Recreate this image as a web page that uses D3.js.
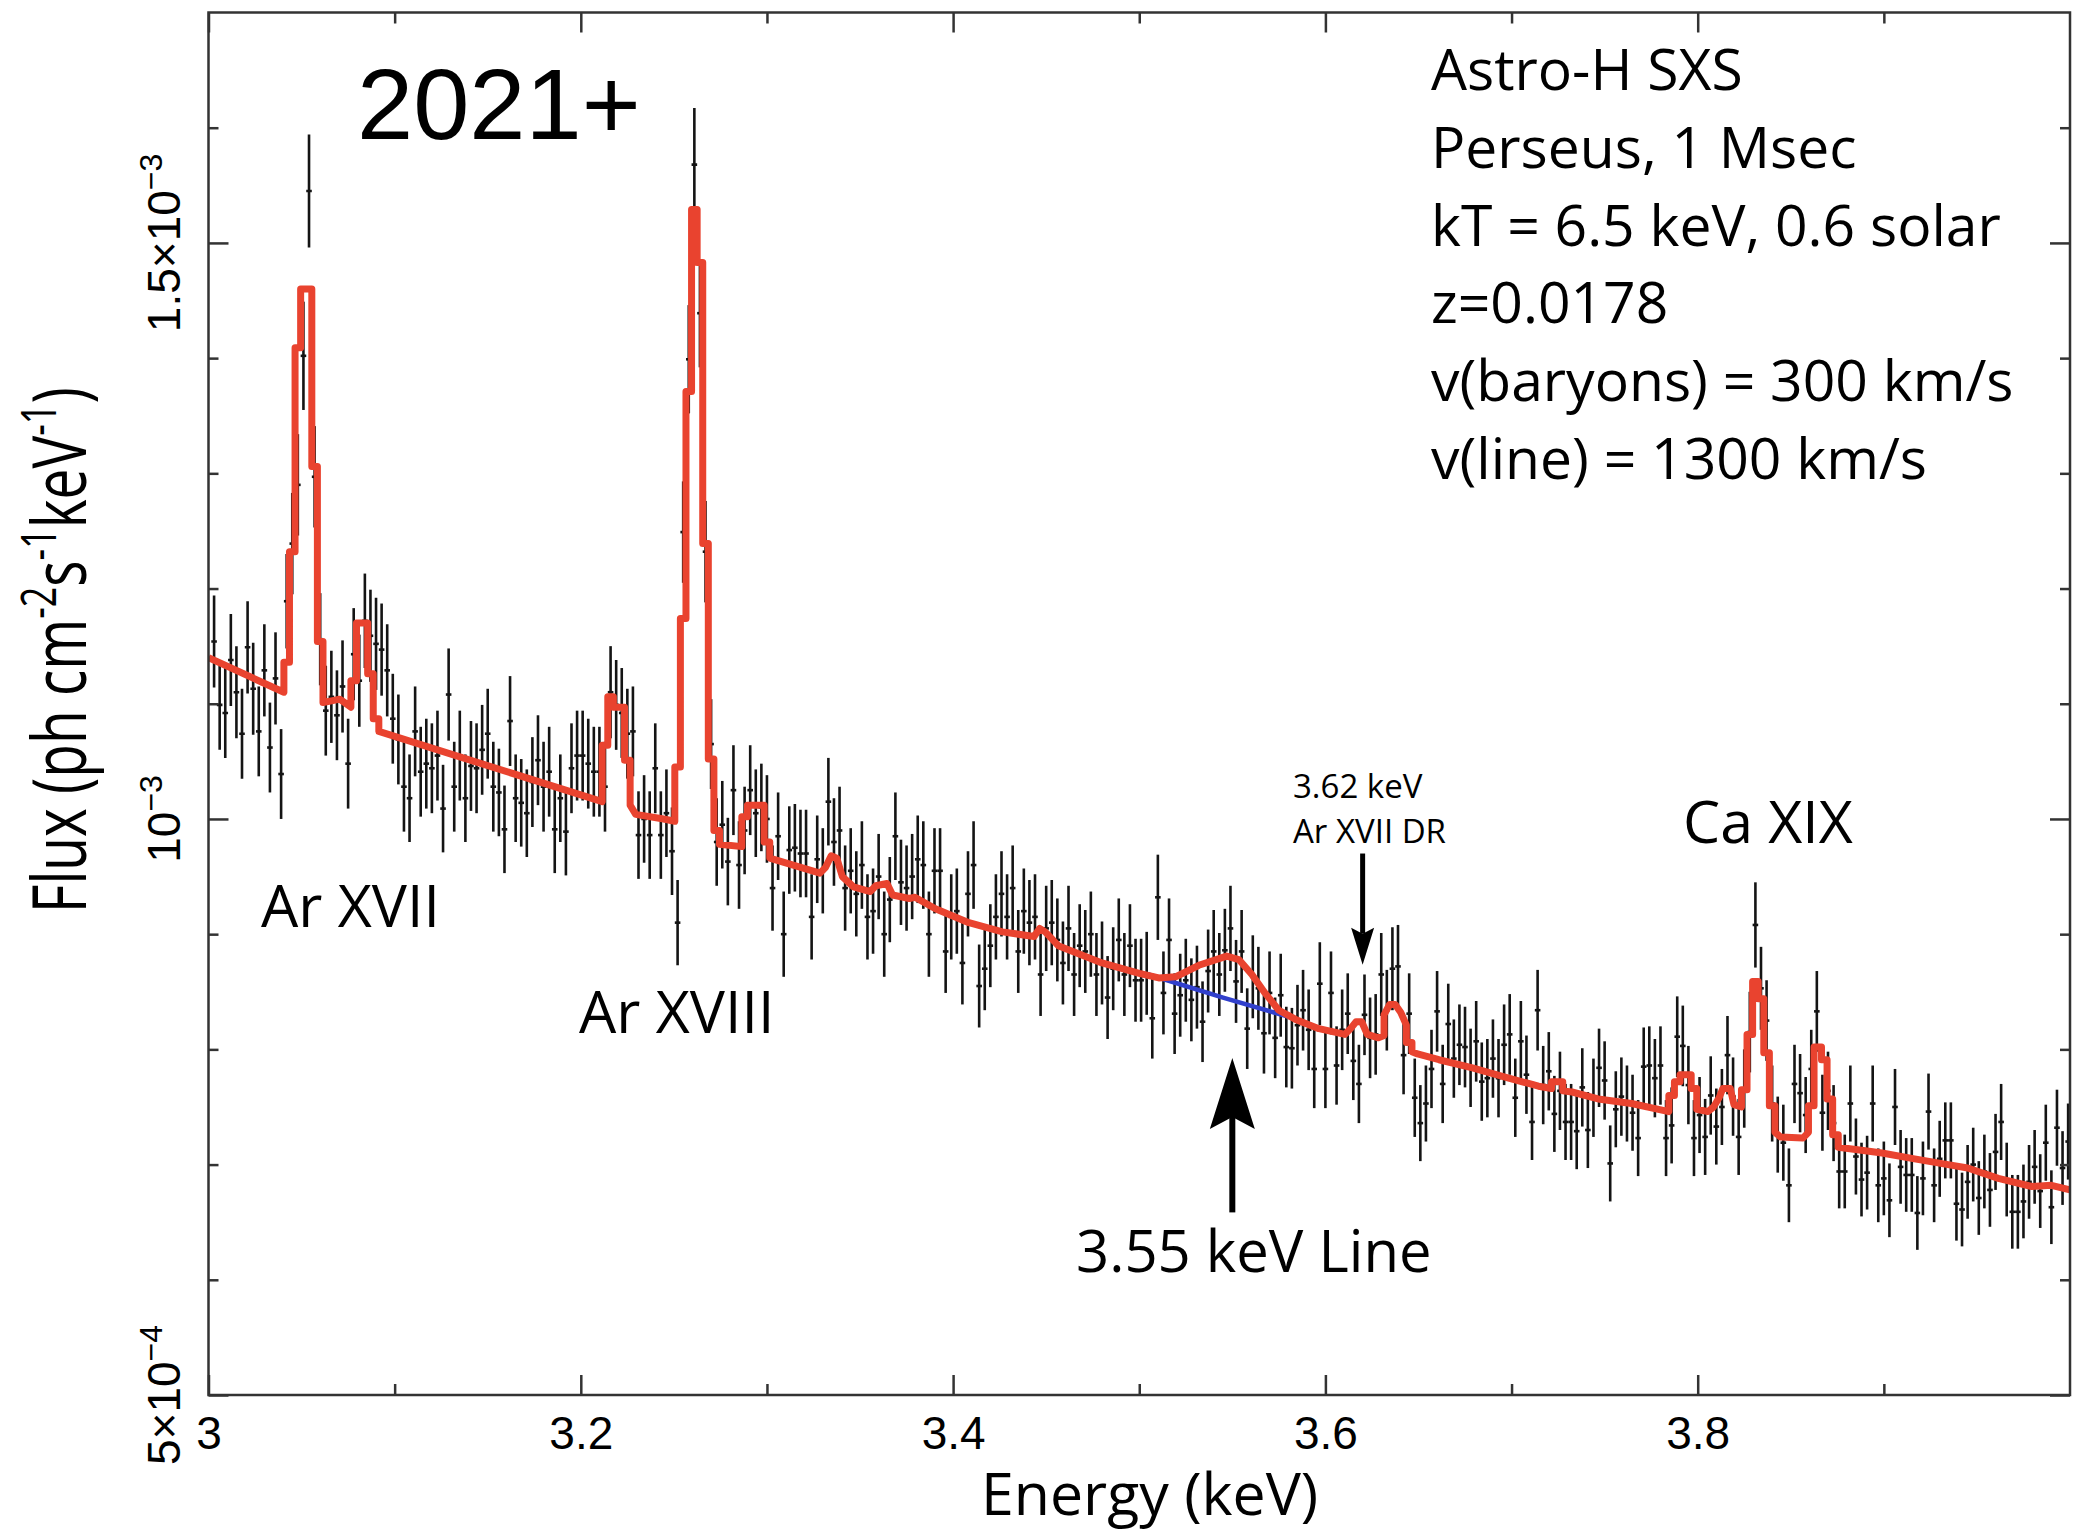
<!DOCTYPE html>
<html><head><meta charset="utf-8">
<script src="https://cdn.jsdelivr.net/npm/d3@7"></script>
<style>
html,body{margin:0;padding:0;background:#fff;}
svg{display:block;}
</style></head><body>
<svg id="chart" width="2076" height="1535"></svg>
<script>
// ---------------- DATA ----------------
// spectral bins: centre of first bin and bin width (keV)
const binStart = 3.003, binWidth = 0.003;
// observed flux per bin, in units of 1e-3 ph cm^-2 s^-1 keV^-1
const flux = [
1.154,1.099,1.092,1.138,1.110,1.074,1.149,1.113,1.076,1.129,
1.062,1.122,1.039,1.189,1.239,1.290,1.402,1.545,1.297,1.156,
1.094,1.106,1.090,1.115,1.048,1.143,1.120,1.172,1.159,1.152,
1.147,1.129,1.087,1.069,1.028,1.018,1.076,1.041,1.048,1.044,
1.055,1.009,1.108,1.028,1.055,1.018,1.046,1.044,1.060,1.074,
1.028,1.023,0.991,1.085,1.018,1.014,1.005,1.032,1.051,1.028,
1.041,0.991,1.018,0.989,1.044,1.055,1.055,1.048,1.041,1.041,
1.028,1.110,1.099,1.092,1.074,1.076,0.986,1.000,0.986,1.044,
0.986,1.005,0.972,0.910,1.249,1.399,1.568,1.439,1.232,1.065,
0.980,0.995,0.963,1.025,0.960,0.990,1.025,1.005,1.010,1.000,
0.940,0.985,0.900,0.973,0.975,0.970,0.970,0.915,0.965,0.955,
1.015,0.980,0.990,0.940,0.955,0.935,0.960,0.915,0.920,0.950,
0.900,0.930,0.985,0.945,0.940,0.950,0.965,0.960,0.900,0.955,
0.955,0.885,0.915,0.920,0.875,0.935,0.960,0.855,0.870,0.890,
0.915,0.935,0.915,0.940,0.885,0.920,0.910,0.915,0.865,0.905,
0.910,0.895,0.875,0.905,0.865,0.890,0.885,0.900,0.865,0.875,
0.845,0.870,0.895,0.865,0.890,0.860,0.860,0.866,0.827,0.932,
0.849,0.895,0.831,0.847,0.860,0.843,0.854,0.824,0.868,0.885,
0.865,0.886,0.905,0.859,0.885,0.818,0.863,0.853,0.814,0.849,
0.810,0.847,0.802,0.801,0.821,0.834,0.817,0.783,0.857,0.783,
0.849,0.786,0.817,0.831,0.790,0.770,0.830,0.810,0.813,0.865,
0.834,0.870,0.872,0.795,0.831,0.758,0.736,0.753,0.783,0.833,
0.770,0.822,0.792,0.804,0.802,0.784,0.807,0.772,0.775,0.792,
0.775,0.804,0.813,0.758,0.807,0.778,0.737,0.834,0.769,0.781,
0.744,0.764,0.737,0.737,0.729,0.767,0.730,0.758,0.784,0.773,
0.701,0.748,0.759,0.753,0.745,0.723,0.785,0.786,0.775,0.786,
0.723,0.734,0.811,0.803,0.769,0.723,0.743,0.724,0.760,0.733,
0.750,0.795,0.759,0.724,0.766,0.815,0.908,0.853,0.825,0.753,
0.726,0.719,0.682,0.770,0.762,0.743,0.783,0.833,0.745,0.764,
0.736,0.694,0.694,0.753,0.707,0.687,0.693,0.753,0.682,0.688,
0.669,0.750,0.698,0.691,0.691,0.658,0.688,0.746,0.682,0.705,
0.721,0.721,0.666,0.661,0.685,0.700,0.671,0.694,0.678,0.711,
0.737,0.687,0.659,0.659,0.668,0.685,0.698,0.677,0.719,0.663,
0.732,0.697,0.720];
// 1-sigma error per bin, in units of 1e-6
const fluxErr = [
40,39,39,40,40,39,40,40,39,40, 39,40,39,41,44,44,47,49,44,40,
39,40,39,40,39,40,40,41,40,40, 40,40,39,39,39,38,39,39,39,39,
39,38,40,39,39,38,39,39,39,39, 39,38,38,39,38,38,38,39,39,39,
39,38,38,38,39,39,39,39,39,39, 39,40,39,39,39,39,38,38,38,39,
38,38,38,37,44,47,49,47,44,39, 38,38,38,39,38,38,39,38,38,38,
37,38,37,38,38,38,38,37,38,37, 38,38,38,37,37,37,38,37,37,37,
37,37,38,37,37,37,38,38,37,37, 37,36,37,37,36,37,38,36,36,36,
37,37,37,37,36,37,37,37,36,37, 37,36,36,37,36,36,36,37,36,36,
36,36,36,36,36,36,36,36,35,37, 36,36,35,36,36,36,36,35,36,36,
36,36,37,36,36,35,36,36,35,36, 35,36,35,35,35,35,35,34,36,34,
36,34,35,35,34,34,35,35,35,36, 35,36,36,34,35,34,33,33,34,35,
34,35,34,35,35,34,35,34,34,34, 34,35,35,34,35,34,33,35,34,34,
33,34,33,33,33,34,33,34,34,34, 33,33,34,33,33,33,34,34,34,34,
33,33,35,35,34,33,33,33,34,33, 33,34,34,33,34,35,37,36,35,33,
33,33,32,34,34,33,34,35,33,34, 33,32,32,33,33,32,32,33,32,32,
32,33,32,32,32,32,32,33,32,33, 33,33,32,32,32,32,32,32,32,33,
33,32,32,32,32,32,32,32,33,32, 33,32,33];
// best-fit model (red), vertices of the folded step curve
const modelE = [3.000,3.0405,3.0405,3.0435,3.0435,3.0465,3.0465,3.0495,3.0495,3.0555,
3.0555,3.0585,3.0585,3.0615,3.0615,3.0705,3.0765,3.0765,3.0795,3.0795,
3.0855,3.0855,3.0885,3.0885,3.0915,3.0915,3.2115,3.2115,3.2145,3.2145,
3.2175,3.2175,3.2235,3.2235,3.2265,3.2265,3.2295,3.2445,3.2505,3.2505,
3.2535,3.2535,3.2565,3.2565,3.2595,3.2595,3.2625,3.2625,3.2655,3.2655,
3.2685,3.2685,3.2715,3.2715,3.2745,3.2745,3.2865,3.2865,3.2895,3.2895,
3.2985,3.2985,3.3015,3.3015,3.3285,3.3315,3.3345,3.3375,3.3405,3.3465,
3.3555,3.3585,3.3645,3.3675,3.3765,3.3795,3.3905,3.4085,3.4265,3.4435,
3.4465,3.4495,3.4565,3.4800,3.5000,3.5105,3.5195,3.5320,3.5470,3.5535,
3.5605,3.5675,3.5750,3.5840,3.5965,3.6105,3.6135,3.6165,3.6195,3.6225,
3.6285,3.6315,3.6315,3.6345,3.6375,3.6405,3.6435,3.6435,3.6465,3.6465,
3.6495,3.6610,3.6790,3.6965,3.7145,3.7215,3.7215,3.7275,3.7275,3.7325,
3.7465,3.7645,3.7845,3.7845,3.7875,3.7875,3.7905,3.7905,3.7965,3.7965,
3.7995,3.7995,3.8055,3.8085,3.8115,3.8135,3.8175,3.8195,3.8235,3.8235,
3.8265,3.8265,3.8295,3.8295,3.8325,3.8325,3.8355,3.8355,3.8385,3.8385,
3.8415,3.8415,3.8445,3.8565,3.8595,3.8595,3.8625,3.8625,3.8665,3.8665,
3.8695,3.8695,3.8725,3.8725,3.8755,3.8755,3.8900,3.8990,3.9165,3.9345,
3.9450,3.9615,3.9795,3.9900,4.0000];
const modelF = [1.140,1.110,1.136,1.136,1.232,1.232,1.409,1.409,1.460,1.460,
1.306,1.306,1.154,1.154,1.101,1.104,1.097,1.120,1.120,1.170,
1.170,1.126,1.126,1.087,1.087,1.076,1.015,1.064,1.064,1.106,
1.106,1.097,1.097,1.051,1.051,1.012,1.004,1.000,0.998,1.045,
1.045,1.174,1.174,1.371,1.371,1.529,1.529,1.483,1.483,1.239,
1.239,1.052,1.052,0.990,0.990,0.978,0.976,1.002,1.002,1.012,
1.012,0.980,0.980,0.966,0.953,0.958,0.968,0.966,0.950,0.941,
0.937,0.942,0.944,0.934,0.931,0.932,0.922,0.910,0.902,0.898,
0.905,0.902,0.890,0.875,0.866,0.862,0.863,0.873,0.881,0.878,
0.865,0.849,0.834,0.826,0.818,0.813,0.818,0.824,0.824,0.813,
0.810,0.812,0.830,0.839,0.839,0.832,0.821,0.806,0.806,0.798,
0.796,0.791,0.784,0.776,0.768,0.766,0.772,0.772,0.764,0.763,
0.757,0.753,0.746,0.760,0.760,0.772,0.772,0.778,0.778,0.766,
0.766,0.748,0.746,0.750,0.758,0.766,0.766,0.752,0.750,0.765,
0.765,0.813,0.813,0.859,0.859,0.844,0.844,0.797,0.797,0.751,
0.751,0.728,0.724,0.723,0.728,0.751,0.751,0.802,0.802,0.791,
0.791,0.757,0.757,0.726,0.726,0.715,0.712,0.710,0.705,0.700,
0.697,0.688,0.681,0.682,0.678];
// continuum without the 3.55 keV line (blue)
const contE = [3.505, 3.545, 3.585];
const contF = [0.865, 0.845, 0.826];

// axes
const xMajorTicks = [3, 3.2, 3.4, 3.6, 3.8];
const xTickLabels = ["3", "3.2", "3.4", "3.6", "3.8"];
const xMinorTicks = [3.1, 3.3, 3.5, 3.7, 3.9];
const yMajorTicks = [0.5, 1.0, 1.5];
const yTickMant = ["5×10", "10", "1.5×10"];
const yTickExp = ["−4", "−3", "−3"];
const yMinorTicks = [0.6, 0.7, 0.8, 0.9, 1.1, 1.2, 1.3, 1.4, 1.6];

// text
const infoLines = ["Astro-H SXS", "Perseus, 1 Msec", "kT = 6.5 keV, 0.6 solar",
  "z=0.0178", "v(baryons) = 300 km/s", "v(line) = 1300 km/s"];
const lineLabels = ["Ar XVII", "Ar XVIII", "Ca XIX"];
const arrowEnergies = [3.55, 3.62];

// ---------------- LAYOUT ----------------
const W = 2076, H = 1535;
const plot = {left: 208.5, right: 2070, top: 12.5, bottom: 1395};
const SANS = "'Open Sans', 'Noto Sans', sans-serif";
const HELV = "'Liberation Sans', Arial, Helvetica, sans-serif";

const svg = d3.select("#chart");
const x = d3.scaleLinear().domain([3, 4]).range([plot.left, plot.right]);
const y = d3.scaleLinear().domain([0.5, 1.7]).range([plot.bottom, plot.top]);

svg.append("rect").attr("width", W).attr("height", H).attr("fill", "#fff");
svg.append("defs").append("clipPath").attr("id", "clip").append("rect")
  .attr("x", plot.left).attr("y", plot.top)
  .attr("width", plot.right - plot.left).attr("height", plot.bottom - plot.top);

// ---------------- DATA POINTS ----------------
const pts = flux.map((f, k) => ({e: binStart + k * binWidth, f: f, s: fluxErr[k] / 1000}));
const gData = svg.append("g").attr("clip-path", "url(#clip)")
  .attr("stroke", "#141414").attr("stroke-width", 2.6).attr("fill", "none");
gData.selectAll("line.v").data(pts).join("line").attr("class", "v")
  .attr("x1", d => x(d.e)).attr("x2", d => x(d.e))
  .attr("y1", d => y(d.f - d.s)).attr("y2", d => y(d.f + d.s));
gData.selectAll("line.h").data(pts).join("line").attr("class", "h")
  .attr("x1", d => x(d.e - binWidth / 2)).attr("x2", d => x(d.e + binWidth / 2))
  .attr("y1", d => y(d.f)).attr("y2", d => y(d.f));

// ---------------- MODEL ----------------
const line = d3.line().x(d => x(d[0])).y(d => y(d[1]));
const gModel = svg.append("g").attr("clip-path", "url(#clip)");
gModel.append("path").datum(d3.zip(contE, contF)).attr("d", line)
  .attr("fill", "none").attr("stroke", "#3140cc").attr("stroke-width", 4.5);
gModel.append("path").datum(d3.zip(modelE, modelF)).attr("d", line)
  .attr("fill", "none").attr("stroke", "#e9432f").attr("stroke-width", 7)
  .attr("stroke-linejoin", "round");

// ---------------- AXES ----------------
function styleAxis(g) {
  g.select(".domain").remove();
  g.selectAll(".tick line").attr("stroke", "#333").attr("stroke-width", 2.5);
  g.selectAll(".tick text").attr("fill", "#000").attr("font-family", HELV).attr("font-size", 46);
}
svg.append("g").attr("transform", `translate(0,${plot.bottom})`)
  .call(d3.axisBottom(x).tickValues(xMajorTicks).tickSize(-20).tickPadding(21)
    .tickFormat((d, i) => xTickLabels[i])).call(styleAxis);
svg.append("g").attr("transform", `translate(0,${plot.bottom})`)
  .call(d3.axisBottom(x).tickValues(xMinorTicks).tickSize(-11).tickFormat("")).call(styleAxis);
svg.append("g").attr("transform", `translate(0,${plot.top})`)
  .call(d3.axisTop(x).tickValues(xMajorTicks).tickSize(-20).tickFormat("")).call(styleAxis);
svg.append("g").attr("transform", `translate(0,${plot.top})`)
  .call(d3.axisTop(x).tickValues(xMinorTicks).tickSize(-11).tickFormat("")).call(styleAxis);
svg.append("g").attr("transform", `translate(${plot.left},0)`)
  .call(d3.axisLeft(y).tickValues(yMajorTicks).tickSize(-20).tickFormat("")).call(styleAxis);
svg.append("g").attr("transform", `translate(${plot.left},0)`)
  .call(d3.axisLeft(y).tickValues(yMinorTicks).tickSize(-10).tickFormat("")).call(styleAxis);
svg.append("g").attr("transform", `translate(${plot.right},0)`)
  .call(d3.axisRight(y).tickValues(yMajorTicks).tickSize(-20).tickFormat("")).call(styleAxis);
svg.append("g").attr("transform", `translate(${plot.right},0)`)
  .call(d3.axisRight(y).tickValues(yMinorTicks).tickSize(-10).tickFormat("")).call(styleAxis);

svg.append("rect").attr("x", plot.left).attr("y", plot.top)
  .attr("width", plot.right - plot.left).attr("height", plot.bottom - plot.top)
  .attr("fill", "none").attr("stroke", "#333").attr("stroke-width", 2.5);

// y tick labels (rotated, with exponents)
yMajorTicks.forEach((v, i) => {
  const t = svg.append("text")
    .attr("transform", `translate(180,${y(v)}) rotate(-90)`)
    .attr("text-anchor", "middle").attr("font-family", HELV).attr("font-size", 46).attr("fill", "#000");
  t.append("tspan").text(yTickMant[i]);
  t.append("tspan").attr("font-size", 32).attr("dy", -18).text(yTickExp[i]);
});

// axis titles
svg.append("text").attr("x", 981).attr("y", 1515)
  .attr("font-family", SANS).attr("font-size", 59).attr("fill", "#000").text("Energy (keV)");

const yt = svg.append("text")
  .attr("transform", "translate(86,913) rotate(-90) scale(1,1.35)")
  .attr("font-family", SANS).attr("font-size", 55).attr("fill", "#000");
yt.append("tspan").text("Flux (ph cm");
yt.append("tspan").attr("font-size", 36).attr("dy", -22).text("-2");
yt.append("tspan").attr("dy", 22).text("s");
yt.append("tspan").attr("font-size", 36).attr("dy", -22).text("-1");
yt.append("tspan").attr("dy", 22).text("keV");
yt.append("tspan").attr("font-size", 36).attr("dy", -22).text("-1");
yt.append("tspan").attr("dy", 22).text(")");

// ---------------- ANNOTATIONS ----------------
svg.append("text").attr("x", 357).attr("y", 139)
  .attr("font-family", HELV).attr("font-size", 101).attr("fill", "#000").text("2021+");

svg.append("g").attr("font-family", SANS).attr("font-size", 57).attr("fill", "#000")
  .selectAll("text").data(infoLines).join("text")
  .attr("x", 1431).attr("y", (d, i) => 90 + i * 77.8).text(d => d);

const labelPos = [[261, 927], [579, 1033], [1683, 843]];
svg.append("g").attr("font-family", SANS).attr("font-size", 59).attr("fill", "#000")
  .selectAll("text").data(lineLabels).join("text")
  .attr("x", (d, i) => labelPos[i][0]).attr("y", (d, i) => labelPos[i][1]).text(d => d);

svg.append("text").attr("x", 1076).attr("y", 1272)
  .attr("font-family", SANS).attr("font-size", 58).attr("fill", "#000").text("3.55 keV Line");
svg.append("text").attr("x", 1293).attr("y", 798)
  .attr("font-family", SANS).attr("font-size", 33).attr("fill", "#000").text("3.62 keV");
svg.append("text").attr("x", 1293).attr("y", 843)
  .attr("font-family", SANS).attr("font-size", 33).attr("fill", "#000").text("Ar XVII DR");

// arrows: 3.55 keV (pointing up), 3.62 keV (pointing down)
function arrow(e, tipV, tailV, headLen, headHalf, notch, shaftW) {
  const xa = x(e), yt0 = y(tipV), yt1 = y(tailV);
  const dir = yt1 > yt0 ? 1 : -1; // direction from tip to tail
  svg.append("line").attr("x1", xa).attr("x2", xa)
    .attr("y1", yt0 + dir * (headLen - notch)).attr("y2", yt1)
    .attr("stroke", "#000").attr("stroke-width", shaftW);
  svg.append("path")
    .attr("d", `M${xa},${yt0} L${xa + headHalf},${yt0 + dir * headLen} L${xa},${yt0 + dir * (headLen - notch)} L${xa - headHalf},${yt0 + dir * headLen} Z`)
    .attr("fill", "#000");
}
arrow(arrowEnergies[0], 0.7926, 0.6585, 71, 22.5, 12, 6);
arrow(arrowEnergies[1], 0.8735, 0.9700, 37, 11.5, 6, 5);
</script>
</body></html>
